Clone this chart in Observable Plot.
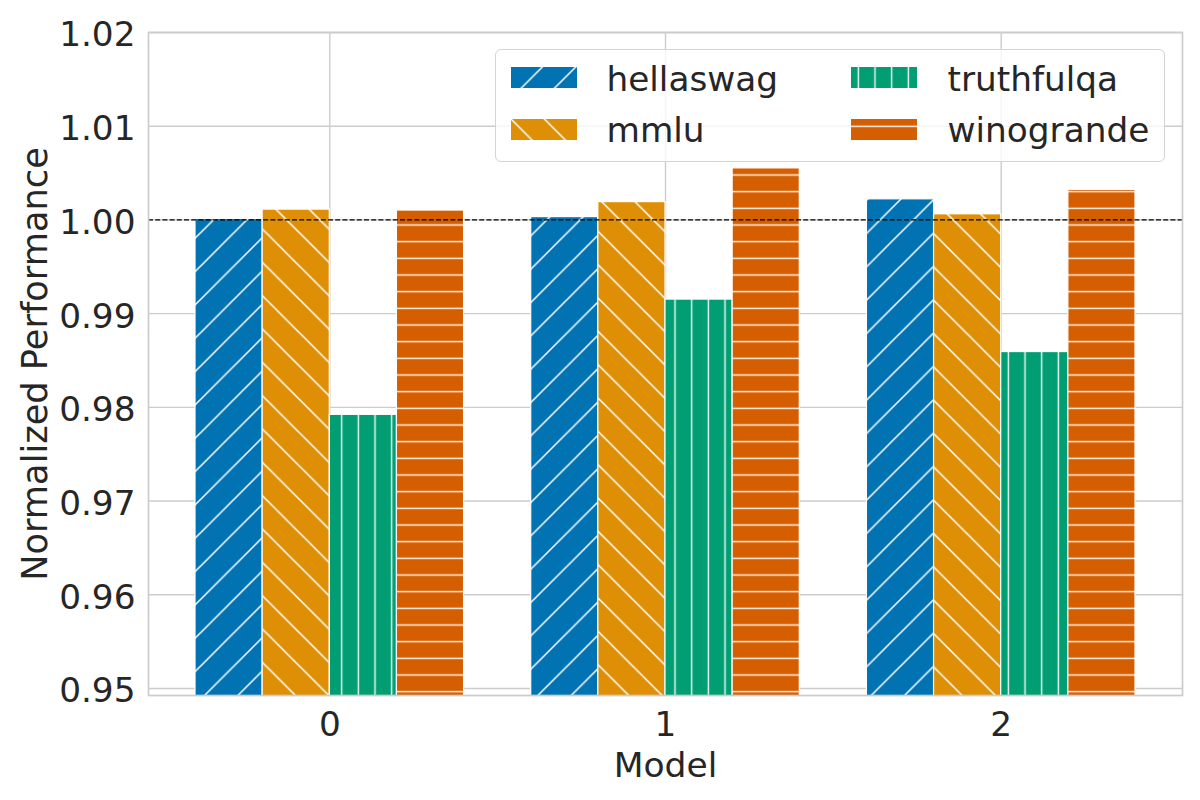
<!DOCTYPE html>
<html>
<head>
<meta charset="utf-8">
<script src="https://cdn.jsdelivr.net/npm/d3@7"></script>
<script src="https://cdn.jsdelivr.net/npm/@observablehq/plot@0.6"></script>
<style>
  html, body { margin: 0; padding: 0; background: white; }
  #wrap { position: relative; width: 1200px; height: 800px; font-family: "DejaVu Sans", sans-serif; color: #262626; }
  #legend { position: absolute; left: 495px; top: 49px; width: 670px; height: 113px; box-sizing: border-box;
            border: 1.5px solid #d4d4d4; border-radius: 6px; background: rgba(255,255,255,0.8); }
  .sw { position: absolute; width: 68px; height: 23px; }
  .lt { position: absolute; font-size: 34.3px; line-height: 40px; white-space: nowrap; color: #262626; }
</style>
</head>
<body>
<svg width="0" height="0" style="position:absolute">
  <defs>
    <pattern id="hatch-hellaswag" patternUnits="userSpaceOnUse" width="33.333" height="33.333">
      <rect width="33.333" height="33.333" fill="#0173b2"/>
      <path d="M0,33.333L33.333,0M-4,4L4,-4M29.333,37.333L37.333,29.333" stroke="white" stroke-width="1.5"/>
    </pattern>
    <pattern id="hatch-mmlu" patternUnits="userSpaceOnUse" width="33.333" height="33.333">
      <rect width="33.333" height="33.333" fill="#de8f05"/>
      <path d="M0,0L33.333,33.333M29.333,-4L37.333,4M-4,29.333L4,37.333" stroke="white" stroke-width="1.5"/>
    </pattern>
    <pattern id="hatch-truthfulqa" patternUnits="userSpaceOnUse" width="16.667" height="16.667">
      <rect width="16.667" height="16.667" fill="#029e73"/>
      <path d="M8.333,-1V17.667" stroke="white" stroke-width="1.4" stroke-opacity="0.95"/>
    </pattern>
    <pattern id="hatch-winogrande" patternUnits="userSpaceOnUse" width="16.667" height="16.667">
      <rect width="16.667" height="16.667" fill="#d55e00"/>
      <path d="M-1,8.333H17.667" stroke="white" stroke-width="1.4" stroke-opacity="0.95"/>
    </pattern>
  </defs>
</svg>
<div id="wrap"></div>
<script>
const models = [0, 1, 2];
const datasets = ["hellaswag", "mmlu", "truthfulqa", "winogrande"];
const hellaswag = [1.0001, 1.0003, 1.0022];
const mmlu = [1.0011, 1.0019, 1.0006];
const truthfulqa = [0.9792, 0.9915, 0.9859];
const winogrande = [1.0010, 1.0055, 1.0032];
const yTicks = [0.95, 0.96, 0.97, 0.98, 0.99, 1.00, 1.01, 1.02];
const xLabel = "Model";
const yLabel = "Normalized Performance";

const series = {hellaswag, mmlu, truthfulqa, winogrande};
const rows = [];
datasets.forEach((name, i) => {
  models.forEach((m, j) => {
    rows.push({model: m, dataset: name, k: i, value: series[name][j]});
  });
});
const groupWidth = 0.8;
const barW = groupWidth / datasets.length;

const chart = Plot.plot({
  width: 1200,
  height: 800,
  marginLeft: 148,
  marginRight: 18,
  marginTop: 32,
  marginBottom: 105,
  x: {domain: [-0.54, 2.54]},
  y: {domain: [0.94925, 1.02]},
  style: {fontFamily: "DejaVu Sans", fontSize: "34.3px", color: "#262626", background: "white"},
  marks: [
    Plot.gridY(yTicks, {stroke: "#cccccc", strokeOpacity: 1, strokeWidth: 1.4}),
    Plot.gridX(models, {stroke: "#cccccc", strokeOpacity: 1, strokeWidth: 1.4}),
    Plot.rectY(rows, {
      x1: d => d.model - groupWidth / 2 + d.k * barW,
      x2: d => d.model - groupWidth / 2 + (d.k + 1) * barW,
      y1: 0,
      y2: "value",
      fill: d => `url(#hatch-${d.dataset})`,
      stroke: "white",
      strokeWidth: 1.2,
      clip: true
    }),
    Plot.ruleY([1], {stroke: "black", strokeWidth: 1.3, strokeDasharray: "5,2.2"}),
    Plot.frame({stroke: "#cccccc", strokeWidth: 1.7}),
    Plot.axisY(yTicks, {tickSize: 0, tickPadding: 13, tickFormat: d3.format(".2f"), label: null, dy: 3}),
    Plot.axisX(models, {tickSize: 0, tickPadding: 16.5, tickFormat: d => String(d), label: null}),
    Plot.text([xLabel], {text: d => d, frameAnchor: "bottom", lineAnchor: "middle", textAnchor: "middle", dy: 70, fontSize: 34.5}),
    Plot.text([yLabel], {text: d => d, frameAnchor: "left", lineAnchor: "middle", textAnchor: "middle", dx: -113, rotate: -90, fontSize: 35.2})
  ]
});
const wrap = document.getElementById("wrap");
wrap.appendChild(chart);

// legend
const legend = document.createElement("div");
legend.id = "legend";
const pos = [
  {sx: 13.5, sy: 15.5, tx: 110.5, ty: 8.5},
  {sx: 13.5, sy: 67.5, tx: 110.5, ty: 59.5},
  {sx: 353.5, sy: 15.5, tx: 451.5, ty: 8.5},
  {sx: 353.5, sy: 67.5, tx: 451.5, ty: 59.5}
];
datasets.forEach((name, i) => {
  const p = pos[i];
  const sw = document.createElementNS("http://www.w3.org/2000/svg", "svg");
  sw.setAttribute("class", "sw");
  sw.setAttribute("width", 68);
  sw.setAttribute("height", 23);
  sw.style.left = p.sx + "px";
  sw.style.top = p.sy + "px";
  const r = document.createElementNS("http://www.w3.org/2000/svg", "rect");
  r.setAttribute("x", 0.5); r.setAttribute("y", 0.5);
  r.setAttribute("width", 67); r.setAttribute("height", 22);
  r.setAttribute("fill", `url(#hatch-${name})`);
  r.setAttribute("stroke", "white");
  r.setAttribute("stroke-width", 1);
  sw.appendChild(r);
  legend.appendChild(sw);
  const t = document.createElement("div");
  t.className = "lt";
  t.textContent = name;
  t.style.left = p.tx + "px";
  t.style.top = p.ty + "px";
  legend.appendChild(t);
});
wrap.appendChild(legend);
</script>
</body>
</html>
